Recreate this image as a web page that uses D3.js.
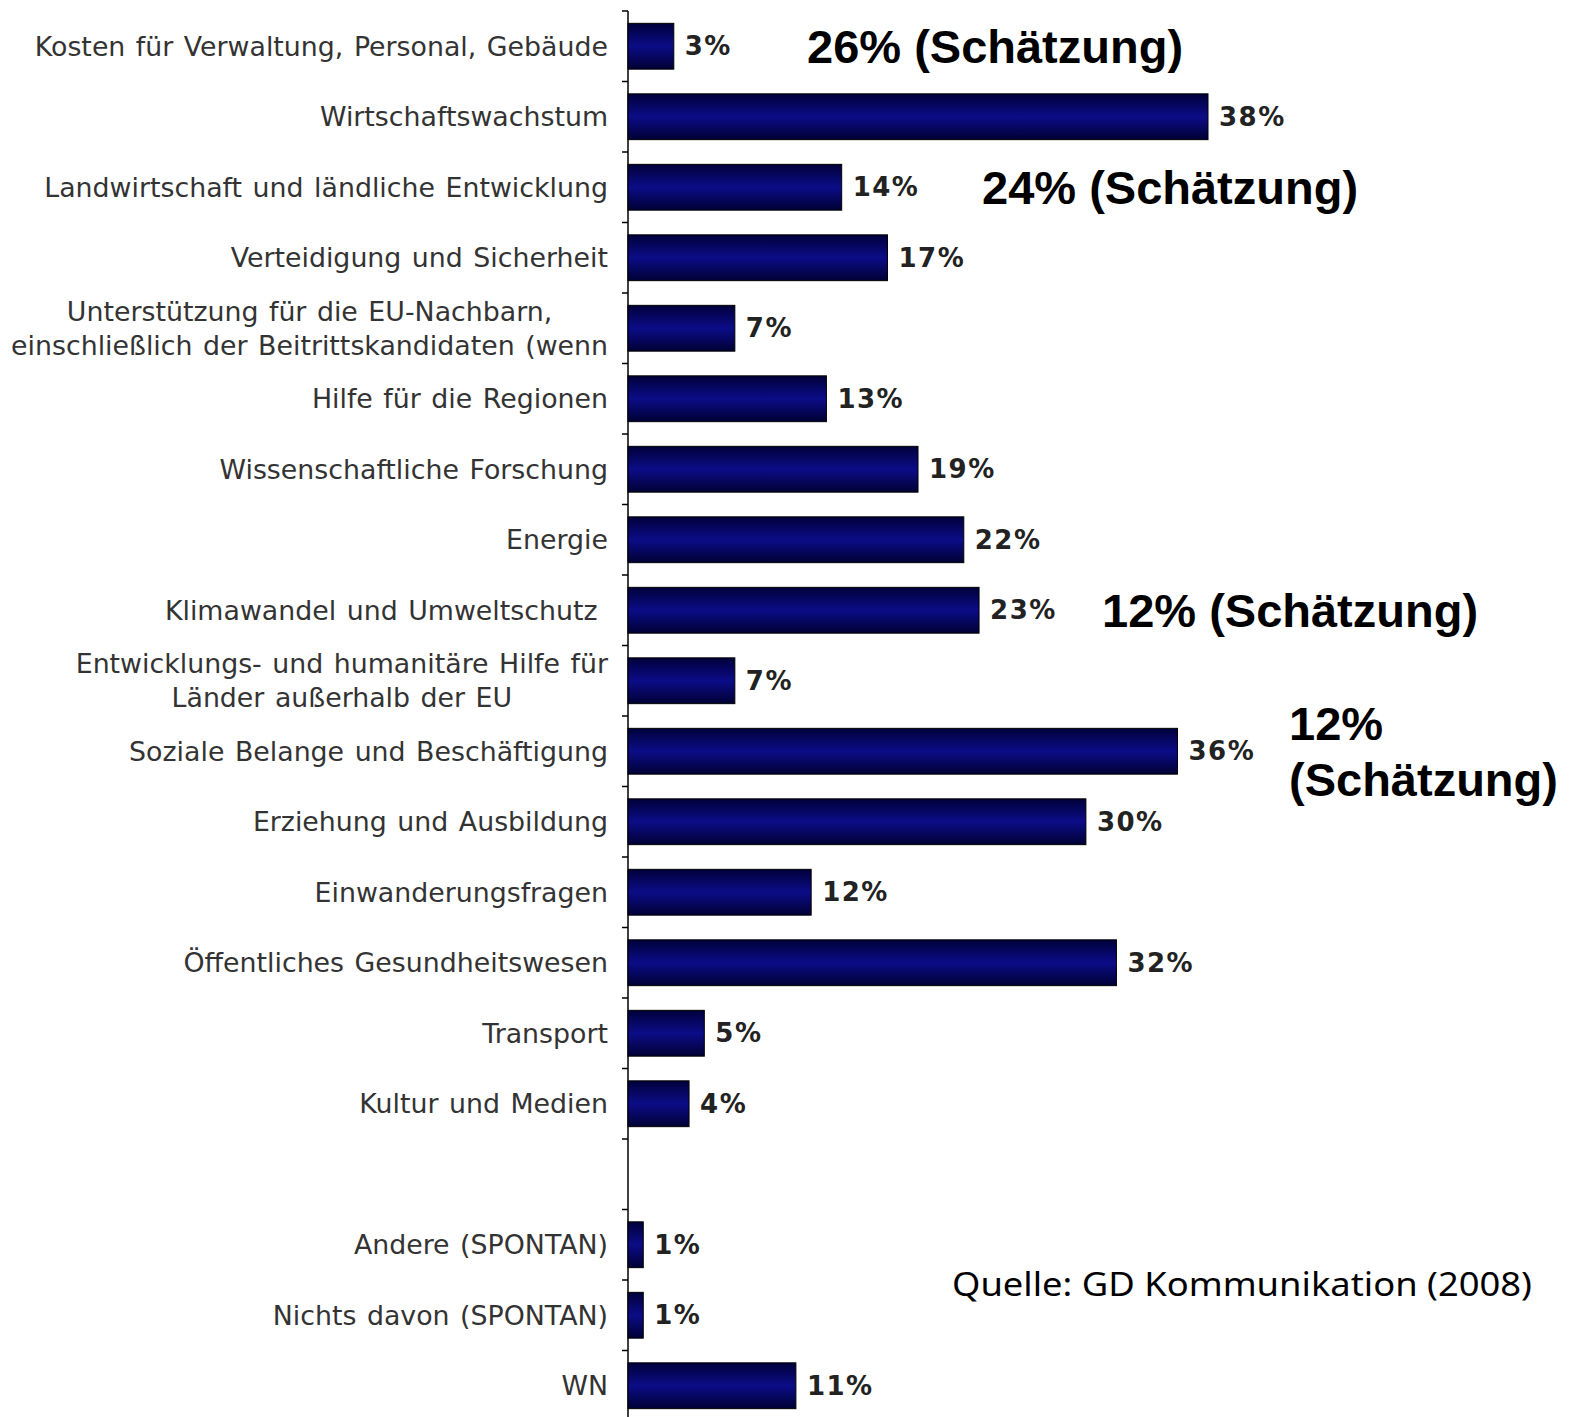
<!DOCTYPE html>
<html>
<head>
<meta charset="utf-8">
<script src="https://cdn.jsdelivr.net/npm/d3@7"></script>
<style>
  body { margin: 0; background: #fff; }
  svg { display: block; }
</style>
</head>
<body>
<div id="viz"></div>
<script>
const margin = {top: 11, right: 40, bottom: 0, left: 628};
const width = 1576;
const height = 1417;

// categories, top to bottom ('' = empty slot in the original chart)
const categories = [
  'Kosten für Verwaltung, Personal, Gebäude',
  'Wirtschaftswachstum',
  'Landwirtschaft und ländliche Entwicklung',
  'Verteidigung und Sicherheit',
  'Unterstützung für die EU-Nachbarn,|einschließlich der Beitrittskandidaten (wenn',
  'Hilfe für die Regionen',
  'Wissenschaftliche Forschung',
  'Energie',
  'Klimawandel und Umweltschutz ',
  'Entwicklungs- und humanitäre Hilfe für|Länder außerhalb der EU',
  'Soziale Belange und Beschäftigung',
  'Erziehung und Ausbildung',
  'Einwanderungsfragen',
  'Öffentliches Gesundheitswesen',
  'Transport',
  'Kultur und Medien',
  '',
  'Andere (SPONTAN)',
  'Nichts davon (SPONTAN)',
  'WN'
];
const values = [3, 38, 14, 17, 7, 13, 19, 22, 23, 7, 36, 30, 12, 32, 5, 4, null, 1, 1, 11];

// budget share estimates written next to some rows
const notes = [
  { row: 0, lines: ['26% (Schätzung)'] },
  { row: 2, lines: ['24% (Schätzung)'] },
  { row: 8, lines: ['12% (Schätzung)'] },
  { row: 10, lines: ['12%', '(Schätzung)'] }
];
const noteX = [807, 982, 1102, 1289]; // left edge of each note, px
const source = 'Quelle: GD Kommunikation (2008)';

const data = categories.map((c, i) => ({ key: i, label: c, value: values[i] }));

const svg = d3.select('#viz')
  .append('svg')
    .attr('width', width)
    .attr('height', height);

// bar gradient
const grad = svg.append('defs')
  .append('linearGradient')
    .attr('id', 'barGrad')
    .attr('x1', 0).attr('y1', 0).attr('x2', 0).attr('y2', 1);
grad.append('stop').attr('offset', '0%').attr('stop-color', '#00003a');
grad.append('stop').attr('offset', '50%').attr('stop-color', '#0c0c88');
grad.append('stop').attr('offset', '100%').attr('stop-color', '#000034');

const scaleX = d3.scaleLinear()
  .domain([0, 38])
  .range([margin.left, 1208]);

const scaleY = d3.scaleBand()
  .domain(data.map(d => d.key))
  .range([margin.top, margin.top + categories.length * 70.5])
  .paddingInner(0.35)
  .paddingOuter(0.175);

const step = scaleY.step();

// axis line + ticks at band boundaries
svg.append('line')
  .attr('x1', margin.left).attr('x2', margin.left)
  .attr('y1', margin.top).attr('y2', height)
  .attr('stroke', '#000')
  .attr('stroke-width', 1.5);

svg.append('g')
  .selectAll('line')
  .data(data)
  .join('line')
    .attr('x1', margin.left - 6)
    .attr('x2', margin.left)
    .attr('y1', d => scaleY(d.key) - step * 0.175)
    .attr('y2', d => scaleY(d.key) - step * 0.175)
    .attr('stroke', '#000')
    .attr('stroke-width', 1.5);

// bars
svg.append('g')
  .selectAll('rect')
  .data(data.filter(d => d.value != null))
  .join('rect')
    .attr('x', scaleX(0))
    .attr('y', d => scaleY(d.key))
    .attr('width', d => scaleX(d.value) - scaleX(0))
    .attr('height', scaleY.bandwidth())
    .attr('fill', 'url(#barGrad)')
    .attr('stroke', '#000')
    .attr('stroke-width', 1);

// value labels
svg.append('g')
  .selectAll('text')
  .data(data.filter(d => d.value != null))
  .join('text')
    .attr('x', d => scaleX(d.value) + 11)
    .attr('y', d => scaleY(d.key) + scaleY.bandwidth() / 2)
    .attr('dominant-baseline', 'central')
    .style('font-family', '"DejaVu Sans", Verdana, sans-serif')
    .style('font-weight', 'bold')
    .style('font-size', '26px')
    .style('letter-spacing', '1.5px')
    .style('fill', '#222')
    .text(d => d.value + '%');

// category labels (multi-line ones are centred on each other, right edge at 608)
const labelRight = 608;
const labels = svg.append('g')
  .style('font-family', '"DejaVu Sans", Verdana, sans-serif')
  .style('font-size', '26.8px')
  .style('word-spacing', '2px')
  .style('fill', '#333');

data.filter(d => d.label !== '').forEach(d => {
  const lines = d.label.split('|');
  const cy = scaleY(d.key) + scaleY.bandwidth() / 2;
  if (lines.length === 1) {
    labels.append('text')
      .attr('x', labelRight)
      .attr('y', cy)
      .attr('text-anchor', 'end')
      .attr('dominant-baseline', 'central')
      .style('white-space', 'pre')
      .text(lines[0]);
  } else {
    const g = labels.append('g');
    const t = lines.map((l, i) => g.append('text')
      .attr('y', cy + (i - (lines.length - 1) / 2) * 34)
      .attr('text-anchor', 'middle')
      .attr('dominant-baseline', 'central')
      .text(l));
    const maxW = d3.max(t, s => s.node().getComputedTextLength());
    t.forEach(s => s.attr('x', labelRight - maxW / 2));
  }
});

// estimate notes
notes.forEach((n, i) => {
  const cy = scaleY(n.row) + scaleY.bandwidth() / 2;
  n.lines.forEach((l, j) => {
    svg.append('text')
      .attr('x', noteX[i])
      .attr('y', cy + (j - (n.lines.length - 1) / 2) * 56)
      .attr('dominant-baseline', 'central')
      .style('font-family', '"Liberation Sans", Arial, sans-serif')
      .style('font-weight', 'bold')
      .style('font-size', '47px')
      .style('fill', '#000')
      .text(l);
  });
});

// source
svg.append('text')
  .attr('x', 952)
  .attr('y', 1283)
  .attr('dominant-baseline', 'central')
  .attr('textLength', 580)
  .attr('lengthAdjust', 'spacingAndGlyphs')
  .style('font-family', '"Noto Sans", sans-serif')
  .style('font-size', '33px')
  .style('fill', '#000')
  .text(source);
</script>
</body>
</html>
